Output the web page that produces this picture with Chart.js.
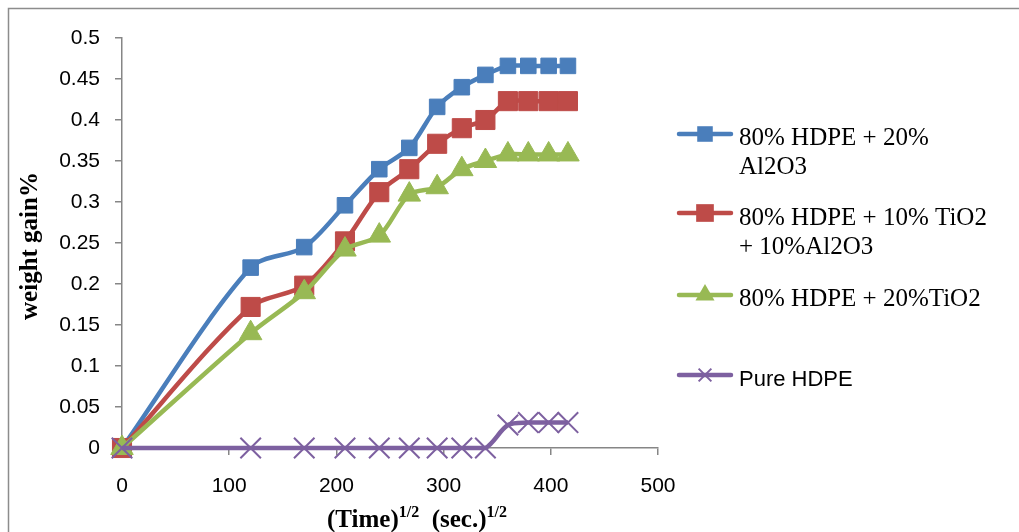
<!DOCTYPE html>
<html>
<head>
<meta charset="utf-8">
<script src="https://cdn.jsdelivr.net/npm/chart.js@4"></script>
<style>
  body { margin: 0; background: #fff; }
  canvas { display: block; }
</style>
</head>
<body>
<canvas id="weight-gain" width="1019" height="532"></canvas>
<script>
// (time)^1/2 values, same for every series
const timeRoot = [0, 120, 170, 208, 240, 268, 294, 317, 339, 360, 379, 398, 416];

// weight gain % for each sample
const hdpeAl2o3 = [0, 0.22, 0.245, 0.296, 0.34, 0.366, 0.416, 0.44, 0.455, 0.466, 0.466, 0.466, 0.466];
const hdpeTio2Al2o3 = [0, 0.172, 0.198, 0.252, 0.312, 0.34, 0.371, 0.39, 0.4, 0.423, 0.423, 0.423, 0.423];
const hdpeTio2 = [0, 0.14, 0.19, 0.242, 0.259, 0.309, 0.318, 0.34, 0.35, 0.358, 0.358, 0.358, 0.358];
const pureHdpe = [0, 0, 0, 0, 0, 0, 0, 0, 0, 0.028, 0.031, 0.031, 0.031];

// legend text, split the way it wraps in the original
const seriesNames = [
    ['80% HDPE + 20%', 'Al2O3'],
    ['80% HDPE + 10% TiO2', '+ 10%Al2O3'],
    ['80% HDPE + 20%TiO2'],
    ['Pure HDPE']
];

const xTicks = [0, 100, 200, 300, 400, 500];

const colors = ['#4a7ebb', '#be4b48', '#98b954', '#7d60a0'];
const markers = [
    { style: 'rect', radius: 11 },
    { style: 'rect', radius: 13.5 },
    { style: 'triangle', radius: 13 },
    { style: 'crossRot', radius: 14.5 }
];

function toPoints(values) {
    return timeRoot.map((t, i) => ({ x: t, y: values[i] }));
}

function makeSet(label, values, i) {
    return {
        label: label.join(' '),
        data: toPoints(values),
        borderColor: colors[i],
        backgroundColor: colors[i],
        borderWidth: 4.5,
        tension: 0.3,
        pointStyle: markers[i].style,
        pointRadius: markers[i].radius,
        pointHoverRadius: markers[i].radius,
        pointBackgroundColor: colors[i],
        pointBorderColor: colors[i],
        pointBorderWidth: markers[i].style === 'crossRot' ? 2 : 1,
        clip: false,
        order: 4 - i // later series sit on top, like the original
    };
}

// small helper to draw the legend marker shapes
function drawMarker(ctx, style, r, x, y, color) {
    ctx.save();
    ctx.fillStyle = color;
    ctx.strokeStyle = color;
    ctx.beginPath();
    if (style === 'rect') {
        const s = r * Math.SQRT1_2;
        ctx.rect(x - s, y - s, 2 * s, 2 * s);
        ctx.fill();
    } else if (style === 'triangle') {
        for (let k = 0; k < 3; k++) {
            const a = k * 2 * Math.PI / 3;
            ctx.lineTo(x + Math.sin(a) * r, y - Math.cos(a) * r);
        }
        ctx.closePath();
        ctx.fill();
    } else {
        const d = r * Math.SQRT1_2;
        ctx.lineWidth = 2;
        ctx.moveTo(x - d, y - d); ctx.lineTo(x + d, y + d);
        ctx.moveTo(x - d, y + d); ctx.lineTo(x + d, y - d);
        ctx.stroke();
    }
    ctx.restore();
}

// frame, axis titles and the right-hand legend
const extras = {
    id: 'extras',
    beforeDraw(chart) {
        const ctx = chart.ctx;
        ctx.save();
        ctx.strokeStyle = '#8c8c8c';
        ctx.lineWidth = 1.5;
        ctx.strokeRect(8.5, 8.5, 1200, 700);
        ctx.restore();
    },
    afterDraw(chart) {
        const ctx = chart.ctx;
        ctx.save();
        ctx.fillStyle = '#000';

        // y title
        ctx.save();
        ctx.translate(31, 246);
        ctx.rotate(-Math.PI / 2);
        ctx.font = 'bold 25px "Liberation Serif"';
        ctx.textAlign = 'center';
        ctx.textBaseline = 'middle';
        ctx.fillText('weight gain%', 0, 0);
        ctx.restore();

        // x title with superscripts
        const parts = [['(Time)', false], ['1/2', true], ['  (sec.)', false], ['1/2', true]];
        const big = 'bold 25px "Liberation Serif"';
        const small = 'bold 16px "Liberation Serif"';
        let total = 0;
        parts.forEach(p => { ctx.font = p[1] ? small : big; total += ctx.measureText(p[0]).width; });
        let x = 417 - total / 2;
        const base = 527;
        ctx.textAlign = 'left';
        ctx.textBaseline = 'alphabetic';
        parts.forEach(p => {
            ctx.font = p[1] ? small : big;
            ctx.fillText(p[0], x, p[1] ? base - 10 : base);
            x += ctx.measureText(p[0]).width;
        });

        // legend
        const serif = '25px "Liberation Serif"';
        const rows = [
            { y: 134, base: [145, 174], font: serif },
            { y: 213, base: [225, 254], font: serif },
            { y: 295, base: [306], font: serif },
            { y: 375, base: [386], font: '22px "Liberation Sans"' }
        ];
        const legendSizes = [11, 12.5, 11, 9];
        rows.forEach((row, i) => {
            ctx.save();
            ctx.strokeStyle = colors[i];
            ctx.lineWidth = 4.5;
            ctx.lineCap = 'round';
            ctx.beginPath();
            ctx.moveTo(679, row.y);
            ctx.lineTo(731, row.y);
            ctx.stroke();
            ctx.restore();
            drawMarker(ctx, markers[i].style, legendSizes[i], 705, row.y, colors[i]);
            ctx.font = row.font;
            seriesNames[i].forEach((line, j) => ctx.fillText(line, 739, row.base[j]));
        });
        ctx.restore();
    }
};

const ctx = document.getElementById('weight-gain').getContext('2d');

new Chart(ctx, {
    type: 'line',
    data: {
        datasets: [
            makeSet(seriesNames[0], hdpeAl2o3, 0),
            makeSet(seriesNames[1], hdpeTio2Al2o3, 1),
            makeSet(seriesNames[2], hdpeTio2, 2),
            makeSet(seriesNames[3], pureHdpe, 3)
        ]
    },
    options: {
        responsive: false,
        animation: false,
        layout: { padding: { top: 38, right: 361, left: 0, bottom: 0 } },
        scales: {
            x: {
                type: 'linear',
                min: 0,
                max: 500,
                afterFit: s => { s.height = 84; },
                afterBuildTicks: s => { s.ticks = xTicks.map(v => ({ value: v })); },
                ticks: {
                    color: '#000',
                    padding: 19,
                    font: { family: '"Liberation Sans"', size: 21 }
                },
                grid: { drawOnChartArea: false, color: '#868686', tickLength: 7, lineWidth: 1.5 },
                border: { color: '#868686', width: 1.5 }
            },
            y: {
                min: 0,
                max: 0.5,
                afterFit: s => { s.width = 122; },
                ticks: {
                    stepSize: 0.05,
                    color: '#000',
                    padding: 15,
                    font: { family: '"Liberation Sans"', size: 21 },
                    callback: v => String(Number(v.toFixed(2)))
                },
                grid: { drawOnChartArea: false, color: '#868686', tickLength: 7, lineWidth: 1.5 },
                border: { color: '#868686', width: 1.5 }
            }
        },
        plugins: {
            legend: { display: false },
            tooltip: { enabled: false }
        }
    },
    plugins: [extras]
});
</script>
</body>
</html>
